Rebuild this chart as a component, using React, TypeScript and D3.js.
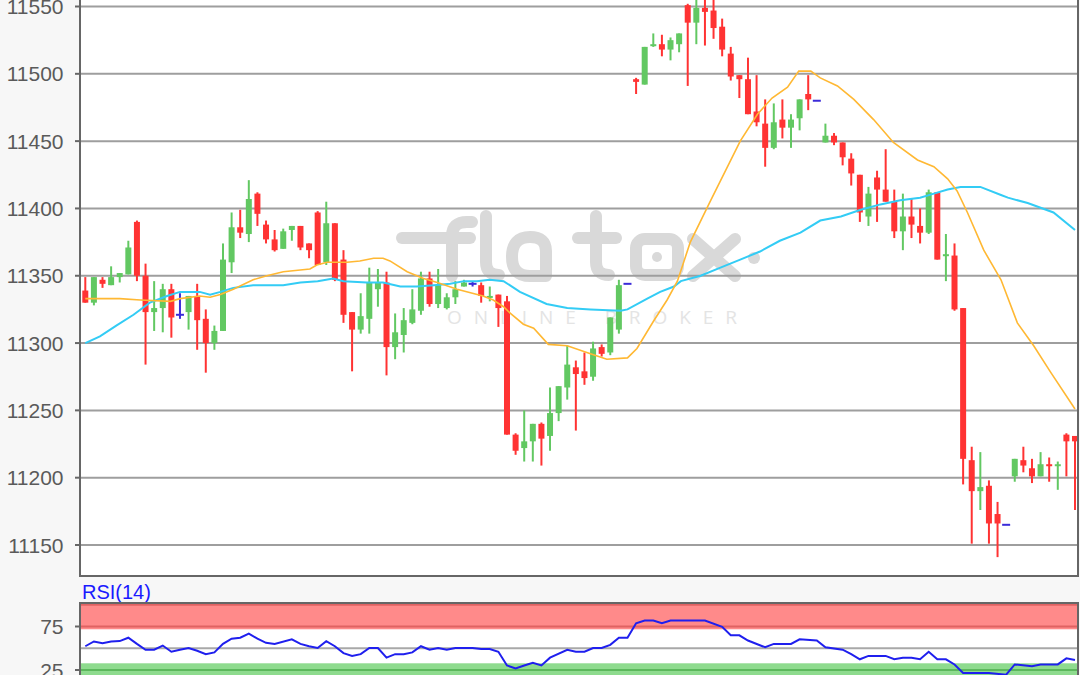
import React from "react";
import * as d3 from "d3";

const OPEN = [11339,11330,11347,11343,11349,11351,11390,11350,11323,11326,
11340,11321,11323,11335,11318,11300,11309,11360,11386,11381,
11411,11388,11377,11370,11384,11387,11374,11397,11360,11389,
11362,11323,11310,11318,11340,11345,11297,11306,11315,11324,
11348,11329,11326,11334,11342,11344,11343,11334,11336,11331,
11232,11222,11227,11240,11231,11248,11267,11282,11279,11275,
11297,11293,11310,11344,11496,11492,11521,11522,11518,11522,
11551,11538,11549,11547,11535,11515,11499,11496,11472,11463,
11445,11466,11460,11467,11485,11480,11449,11454,11449,11437,
11425,11394,11423,11414,11405,11383,11394,11387,11382,11412,
11365,11365,11326,11213,11190,11194,11173,11165,11201,11213,
11207,11201,11210,11209,11232,11231];
const HIGH = [11349,11349,11349,11357,11352,11376,11391,11359,11346,11344,
11344,11337,11335,11344,11325,11313,11374,11397,11399,11421,
11412,11391,11384,11385,11387,11387,11374,11398,11405,11389,
11369,11323,11337,11356,11355,11353,11322,11326,11340,11353,
11353,11355,11337,11346,11347,11346,11345,11342,11336,11335,
11233,11250,11240,11241,11267,11268,11298,11287,11293,11301,
11299,11319,11347,11344,11497,11520,11530,11529,11527,11530,
11552,11555,11555,11555,11541,11520,11499,11512,11499,11481,
11478,11481,11470,11481,11499,11480,11463,11456,11449,11441,
11425,11416,11428,11444,11414,11411,11407,11400,11414,11412,
11381,11374,11326,11223,11219,11198,11182,11165,11214,11223,
11214,11219,11215,11212,11233,11231];
const LOW = [11330,11328,11341,11343,11345,11351,11346,11284,11309,11308,
11304,11318,11310,11295,11278,11295,11309,11352,11378,11375,
11387,11374,11368,11370,11376,11369,11363,11358,11358,11346,
11315,11279,11307,11307,11327,11276,11288,11293,11314,11321,
11327,11326,11325,11329,11342,11342,11330,11331,11312,11232,
11217,11212,11212,11209,11220,11242,11258,11235,11269,11272,
11290,11291,11307,11344,11485,11492,11520,11513,11510,11516,
11491,11522,11521,11526,11513,11495,11482,11470,11461,11431,
11444,11452,11445,11458,11473,11480,11449,11447,11432,11417,
11390,11387,11390,11405,11378,11369,11378,11374,11381,11362,
11346,11324,11195,11151,11176,11151,11141,11165,11197,11204,
11196,11201,11197,11191,11201,11176];
const CLOSE = [11330,11349,11344,11349,11352,11371,11350,11323,11326,11340,
11319,11321,11335,11317,11300,11309,11362,11386,11382,11407,
11396,11377,11369,11383,11387,11371,11369,11358,11389,11347,
11321,11310,11320,11345,11345,11297,11308,11317,11325,11348,
11329,11343,11334,11340,11345,11344,11335,11335,11326,11232,
11220,11227,11240,11229,11248,11268,11284,11277,11274,11296,
11292,11319,11343,11344,11494,11520,11522,11518,11525,11530,
11538,11549,11546,11534,11518,11498,11496,11470,11464,11445,
11464,11460,11466,11481,11481,11480,11454,11449,11438,11426,
11397,11411,11414,11405,11383,11394,11388,11382,11412,11362,
11366,11325,11214,11190,11193,11166,11166,11165,11214,11209,
11201,11210,11209,11210,11227,11227];

const MA_ORANGE_IDX = [0,4,6.4,9.9,11,13.3,14.5,15.7,17.2,19.5,21.1,23,26.1,26.9,28.1,30.4,31.9,33.5,34.6,35.4,37.4,39.3,40.9,43.2,46.2,47.4,48.6,49.4,50.9,52.1,53.8,56,58.7,60.6,63,64.1,66,67.6,68.8,70.3,72.6,76.1,78.1,79.8,81.6,82.9,84.3,85.4,87.4,89.3,91.6,93.9,96.7,98.6,100.2,101.3,102.5,104.4,106.4,108.3,110.2,112.2,115];
const MA_ORANGE_VAL = [11333,11333,11332,11331,11333,11335,11334,11336,11340,11347,11350,11353,11355,11358,11360,11360,11361,11363,11363,11361,11353,11348,11345,11340,11335,11332,11327,11322,11314,11311,11299,11298,11292,11288,11289,11296,11316,11332,11346,11375,11405,11450,11470,11482,11490,11502,11502,11497,11491,11481,11466,11449,11436,11431,11422,11413,11397,11369,11347,11315,11298,11278,11251];

const MA_CYAN_IDX = [0,1.7,3.6,5.6,7.5,9.5,11,13.3,14.5,15.7,17.2,19.5,21.5,23,25,27,28.8,30,32.7,34.6,36.6,38.5,40.5,42.4,44,45.5,47,48.6,50.5,53.6,56,58.7,62.2,63,65.3,66.8,68.4,69.2,71.5,73.8,76.1,78.4,80.7,83.1,85.4,87.8,90.1,92.4,94.7,97,98.6,100.2,101.7,104,106.4,107.2,109.5,112.5,115];
const MA_CYAN_VAL = [11300,11305,11313,11321,11330,11335,11338,11338,11336,11338,11341,11343,11343,11343,11345,11346,11348,11346,11345,11345,11342,11342,11343,11344,11346,11346,11347,11346,11338,11329,11326,11325,11324,11325,11333,11338,11342,11346,11350,11356,11362,11368,11376,11382,11391,11394,11399,11403,11406,11408,11411,11414,11416,11416,11410,11408,11404,11397,11384];

const RSI_IDX = [0,1,2,3,4,5,6,7,8,9,10,11,12,13,14,15,16,17,18,19,20,21,22,24,25,26,27,28,29,30,31,32,33,34,35,36,37,38,39,40,41,42,43,45,46,47,48,49,50,51,52,53,54,56,57,58,59,60,61,62,63,64,65,66,67,68,70,72,74,75,76,77,79,80,82,83,85,86,88,89,90,91,93,94,95,96,97,98,99,100,101,102,105,107,108,110,111,113,114,115];
const RSI_VAL = [52.3,57.8,55.8,57.8,58.2,62.1,55,48.3,48.3,53.1,46,48.3,50.3,47.1,43.2,45.2,55,61,62.1,66.8,61,56.2,55,60.2,55,52.3,50.3,58.2,52.3,44.4,41.2,43.2,50.3,50.3,39.2,43.2,43.2,45.2,52.3,48.3,50.3,48.3,50.3,50.3,49.1,49.1,46,30.2,26.7,30.2,33.4,30.2,39.2,48.3,46,46,50.3,50.3,53.9,62.1,62.1,78.7,81.8,81.8,78.7,81.8,81.8,81.8,74.7,64.9,64.9,58.9,51.1,55,55,60.2,58.9,51.1,48.3,43.2,37.3,41.2,41.2,37.3,39.2,39.2,37.3,46,37.3,37.3,31.4,21.5,21.5,19.6,31.4,29.4,31.4,31.4,38.4,36.5];

const PRICE_TICKS = [11150,11200,11250,11300,11350,11400,11450,11500,11550];
const RSI_TICKS = [75,25];

const RED = "#ff3333";
const GREEN = "#62c862";
const BLUE = "#3b2bd9";
const FONT = "'Liberation Sans', Arial, sans-serif";
const WM = "#d9d9d9";

export default function App() {
  const L = 80, R = 1078, MAIN_B = 576, RSI_T = 603;
  const x = d3.scaleLinear().domain([0, 115]).range([85.3, 1075]);
  const y = d3.scaleLinear().domain([11150, 11550]).range([545, 6.5]);
  const ry = d3.scaleLinear().domain([25, 75]).range([670, 626.5]);

  const priceLine = d3.line<[number, number]>().x(d => x(d[0])).y(d => y(d[1]));
  const rsiLine = d3.line<[number, number]>().x(d => x(d[0])).y(d => ry(d[1]));

  const orangePts = MA_ORANGE_IDX.map((v, i) => [v, MA_ORANGE_VAL[i]] as [number, number]);
  const cyanPts = MA_CYAN_IDX.map((v, i) => [v, MA_CYAN_VAL[i]] as [number, number]);
  const rsiPts = RSI_IDX.map((v, i) => [v, RSI_VAL[i]] as [number, number]);

  const bw = 6;

  return (
    <svg width={1080} height={675} style={{ position: "absolute", left: 0, top: 0 }} fontFamily={FONT}>
      <defs>
        <clipPath id="mainClip"><rect x={L} y={-10} width={R - L} height={MAIN_B + 10} /></clipPath>
        <clipPath id="rsiClip"><rect x={L} y={RSI_T} width={R - L} height={80} /></clipPath>
      </defs>
      <rect x={0} y={0} width={1080} height={675} fill="#f7f7f7" />
      <rect x={L} y={-10} width={R - L} height={MAIN_B + 10} fill="#ffffff" />
      <rect x={L} y={RSI_T} width={R - L} height={80} fill="#ffffff" />

      {/* watermark logo */}
      <g fill="none" stroke={WM} strokeWidth={12} strokeLinecap="round" strokeLinejoin="round">
        <path d="M402,238 H470" />
        <path d="M452,276 V236 Q452,222 467,222 H472" />
        <path d="M486,216 V262 Q486,275 499,275" />
        <path d="M546,276 V251 Q546,237 530,237 Q512,237 512,257 Q512,276 530,276 H546" />
        <path d="M596,216 V262 Q596,275 609,275" />
        <path d="M578,238 H616" />
        <rect x={636} y={239} width={42} height={36} rx={9} />
        <path d="M693,239 L735,276 M735,239 L693,276" />
      </g>
      <circle cx={657} cy={257} r={5} fill={WM} />
      <circle cx={754} cy={258} r={6} fill={WM} />
      <text x={447} y={324} fontFamily="'Open Sans', sans-serif" fontSize={19} fill="#e4e4e4" textLength={290} lengthAdjust="spacing">ONLINE BROKER</text>

      {/* main grid */}
      {PRICE_TICKS.map(t => (
        <g key={t}>
          <line x1={L} x2={R} y1={y(t)} y2={y(t)} stroke="#9e9e9e" strokeWidth={2} />
          <line x1={75} x2={L} y1={y(t)} y2={y(t)} stroke="#666" strokeWidth={2} />
          <text x={63.5} y={y(t)} dy="0.36em" textAnchor="end" fontSize={21} fill="#5a5a5a">{t}</text>
        </g>
      ))}

      {/* candles */}
      <g clipPath="url(#mainClip)">
        {OPEN.map((o, i) => {
          const c = CLOSE[i], h = HIGH[i], l = LOW[i];
          const cx = x(i);
          if (o === c) {
            return (
              <g key={i}>
                {h !== l && <line x1={cx} x2={cx} y1={y(h)} y2={y(l)} stroke={BLUE} strokeWidth={2} />}
                <line x1={cx - 4} x2={cx + 4} y1={y(o)} y2={y(o)} stroke={BLUE} strokeWidth={2} />
              </g>
            );
          }
          const col = c > o ? GREEN : RED;
          const top = y(Math.max(o, c)), bot = y(Math.min(o, c));
          return (
            <g key={i}>
              <line x1={cx} x2={cx} y1={y(h)} y2={y(l)} stroke={col} strokeWidth={2} />
              <rect x={cx - bw / 2} y={top} width={bw} height={Math.max(bot - top, 2)} fill={col} />
            </g>
          );
        })}
        <path d={priceLine(cyanPts) || ""} fill="none" stroke="#33ccf5" strokeWidth={2} />
        <path d={priceLine(orangePts) || ""} fill="none" stroke="#ffb833" strokeWidth={1.6} />
      </g>

      {/* main frame */}
      <line x1={L} x2={L} y1={0} y2={MAIN_B} stroke="#666" strokeWidth={2} />
      <line x1={L - 1} x2={R + 1} y1={MAIN_B} y2={MAIN_B} stroke="#666" strokeWidth={2} />
      <line x1={R} x2={R} y1={0} y2={MAIN_B} stroke="#666" strokeWidth={2} />

      {/* RSI panel */}
      <text x={82} y={599} fontSize={20} fill="#1a1aff">RSI(14)</text>
      <g clipPath="url(#rsiClip)">
        <rect x={L} y={RSI_T} width={R - L} height={629.3 - RSI_T} fill="#ff8a8a" />
        <line x1={L} x2={R} y1={ry(100)} y2={ry(100)} stroke="#e06262" strokeWidth={2} />
        <line x1={L} x2={R} y1={ry(75)} y2={ry(75)} stroke="#e06262" strokeWidth={2} />
        <line x1={L} x2={R} y1={ry(50)} y2={ry(50)} stroke="#a8a8a8" strokeWidth={2} />
        <rect x={L} y={663.3} width={R - L} height={20} fill="#8edb8e" />
        <line x1={L} x2={R} y1={ry(25)} y2={ry(25)} stroke="#5cb85c" strokeWidth={2} />
        <path d={rsiLine(rsiPts) || ""} fill="none" stroke="#1f1fee" strokeWidth={2} />
      </g>
      {RSI_TICKS.map(t => (
        <g key={t}>
          <line x1={75} x2={L} y1={ry(t)} y2={ry(t)} stroke="#666" strokeWidth={2} />
          <text x={63.5} y={ry(t)} dy="0.36em" textAnchor="end" fontSize={21} fill="#5a5a5a">{t}</text>
        </g>
      ))}
      <line x1={L - 1} x2={R + 1} y1={RSI_T} y2={RSI_T} stroke="#666" strokeWidth={2} />
      <line x1={L} x2={L} y1={RSI_T} y2={675} stroke="#666" strokeWidth={2} />
      <line x1={R} x2={R} y1={RSI_T} y2={675} stroke="#666" strokeWidth={2} />
    </svg>
  );
}
